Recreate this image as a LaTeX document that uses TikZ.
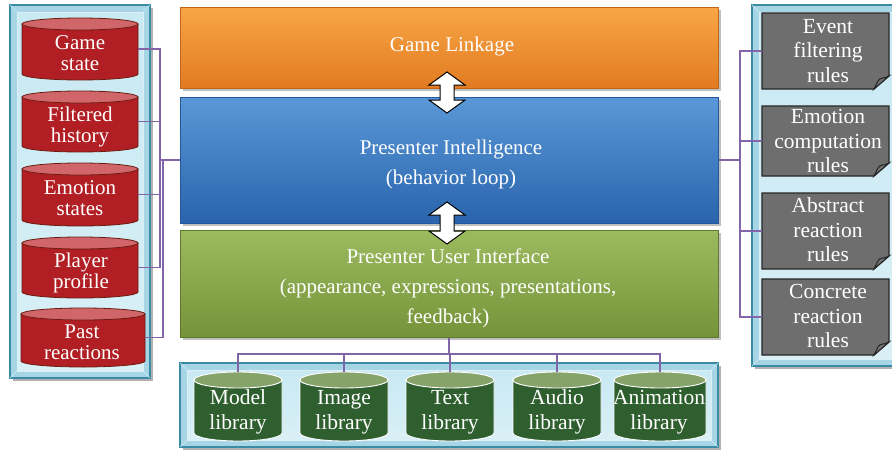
\documentclass[tikz,border=0pt]{standalone}
\usepackage{fontspec}
\setmainfont{Liberation Serif}
\definecolor{connc}{HTML}{8264A8}
\definecolor{pout}{HTML}{A6D6E6}
\definecolor{pedge}{HTML}{3B8BA5}
\definecolor{pin}{HTML}{C9E9F3}
\definecolor{redbody}{HTML}{B11E24}
\definecolor{redtop}{HTML}{D0666A}
\definecolor{rededge}{HTML}{6A1E12}
\definecolor{grnbody}{HTML}{2F5F2F}
\definecolor{grntop}{HTML}{86A46A}
\definecolor{notegray}{HTML}{6E6E6E}
\definecolor{orT}{HTML}{F8A646}
\definecolor{orB}{HTML}{E27A22}
\definecolor{orE}{HTML}{C0661A}
\definecolor{blT}{HTML}{5A98D8}
\definecolor{blB}{HTML}{2A64AC}
\definecolor{blE}{HTML}{24589A}
\definecolor{gnT}{HTML}{9CBA5E}
\definecolor{gnB}{HTML}{75933A}
\definecolor{gnE}{HTML}{5E7A2C}
\tikzset{
  conn/.style={draw=connc, line width=1.1pt},
  cyltext/.style={text=white, align=center, font=\fontsize{21}{20.5}\selectfont, inner sep=0pt},
  libtext/.style={text=white, align=center, font=\fontsize{21.5}{25}\selectfont, inner sep=0pt},
  notetext/.style={text=white, align=center, font=\fontsize{21.5}{24.5}\selectfont, inner sep=0pt},
  boxtext/.style={text=white, align=center, font=\fontsize{21}{30}\selectfont, inner sep=0pt},
  redbodys/.style={fill=redbody, draw=rededge, line width=0.8pt},
  redtops/.style={fill=redtop, draw=rededge, line width=0.8pt},
  grnbodys/.style={fill=grnbody, draw=white, line width=0.9pt},
  grntops/.style={fill=grntop, draw=white, line width=0.9pt},
  mainbox/.style={minimum width=538pt, inner sep=0pt, line width=1pt},
  dbl/.style={fill=white, draw=black, line width=1pt, line join=miter},
}
% cylinder: name, cx, top, bottom, half width, ry, body style, top style, text
\newcommand\dbcyl[9]{%
  \path[#7] (#2-#5,#3+#6) -- (#2-#5,#4-#6) arc[start angle=180,end angle=0,x radius=#5,y radius=#6] -- (#2+#5,#3+#6) -- cycle;
  \path[#8] (#2,#3+#6) ellipse[x radius=#5,y radius=#6];
  \coordinate (#1-e) at (#2+#5,{(#3+#4)/2});
  \coordinate (#1-t) at (#2,#3);
}
% note card: name, x1, y1, x2, y2
\newcommand\rulecard[5]{%
  \path[fill=notegray, draw=black!85, line width=1.2pt] (#2,#3) -- (#4,#3) -- (#4,#5-13) -- (#4-15,#5) -- (#2,#5) -- cycle;
  \path[fill=black!55, draw=black!85, line width=1pt] (#4,#5-13) .. controls (#4-5,#5-10) and (#4-9,#5-12) .. (#4-11,#5-8) -- (#4-15,#5) -- cycle;
  \coordinate (#1-w) at (#2,{(#3+#5)/2});
}
% panel: x1,y1,x2,y2
\newcommand\rpanel[4]{%
  \fill[black!30] (#1+3,#2+3) rectangle (#3+3,#4+3);
  \path[fill=pout, draw=pedge, line width=1.2pt] (#1,#2) rectangle (#3,#4);
  \path[top color=pin, bottom color=pin!70!white, draw=white!60!pout, line width=0.6pt] (#1+7,#2+7) rectangle (#3-7,#4-7);
  \draw[white!50!pout, line width=0.6pt] (#1,#2) -- (#1+7,#2+7) (#3,#2) -- (#3-7,#2+7) (#1,#4) -- (#1+7,#4-7) (#3,#4) -- (#3-7,#4-7);
}
\newcommand\dblarrow[3]{%
  \path[dbl] (#1,#2) -- (#1+18,#2+13) -- (#1+7,#2+13) -- (#1+7,#3-13) -- (#1+18,#3-13) -- (#1,#3) -- (#1-18,#3-13) -- (#1-7,#3-13) -- (#1-7,#2+13) -- (#1-18,#2+13) -- cycle;
}
\begin{document}
\begin{tikzpicture}[x=1pt,y=-1pt]
\useasboundingbox (0,0) rectangle (892,450);
\fill[white] (0,0) rectangle (892,450);

% panels
\rpanel{10}{5}{150}{378}
\rpanel{180}{363}{718}{447}
\rpanel{752}{5}{900}{366}

% main boxes (with shadows)
\fill[black!25] (183,10) rectangle (721,91);
\fill[black!25] (183,100) rectangle (721,226);
\fill[black!25] (183,233) rectangle (721,340);
\node[mainbox, minimum height=81pt, top color=orT, bottom color=orB, draw=orE] (link) at (449,47.5) {};
\node[mainbox, minimum height=126pt, top color=blT, bottom color=blB, draw=blE] (intel) at (449,160) {};
\node[mainbox, minimum height=107pt, top color=gnT, bottom color=gnB, draw=gnE] (ui) at (449,283.5) {};
\node[boxtext] (linkt) at (452,46) {Game Linkage};
\node[boxtext] (intelt) at (451,164) {Presenter Intelligence\\(behavior loop)};
\node[boxtext] (uit) at (448,288) {Presenter User Interface\\(appearance, expressions, presentations,\\feedback)};

% double arrows
\dblarrow{447}{72}{113}
\dblarrow{447}{202}{244}

% left cylinders
\dbcyl{gs}{80}{18}{80}{58}{6}{redbodys}{redtops}{}
\node[cyltext] (gst) at (80,53) {Game\\state};
\dbcyl{fh}{80}{91}{152}{58}{6}{redbodys}{redtops}{}
\node[cyltext] (fht) at (80,127) {Filtered\\history};
\dbcyl{es}{80}{163}{226}{58}{6}{redbodys}{redtops}{}
\node[cyltext] (est) at (80,198) {Emotion\\states};
\dbcyl{pp}{80}{237}{298}{58}{6}{redbodys}{redtops}{}
\node[cyltext] (ppt) at (81,273) {Player\\profile};
\dbcyl{pr}{83}{308}{367}{62}{6}{redbodys}{redtops}{}
\node[cyltext] (prt) at (82,342) {Past\\reactions};

% right cards
\rulecard{ef}{762}{13}{889}{89}
\node[notetext] (eft) at (828,51) {Event\\filtering\\rules};
\rulecard{ec}{762}{106}{889}{176}
\node[notetext] (ect) at (828,141) {Emotion\\computation\\rules};
\rulecard{ar}{762}{193}{889}{269}
\node[notetext] (art) at (828,230) {Abstract\\reaction\\rules};
\rulecard{cr}{762}{279}{889}{355}
\node[notetext] (crt) at (828,316) {Concrete\\reaction\\rules};

% bottom cylinders
\dbcyl{ml}{238}{372}{441}{44}{8}{grnbodys}{grntops}{}
\node[libtext] (mlt) at (238,412) {Model\\library};
\dbcyl{il}{344}{372}{441}{44}{8}{grnbodys}{grntops}{}
\node[libtext] (ilt) at (344,412) {Image\\library};
\dbcyl{tl}{450}{372}{441}{44}{8}{grnbodys}{grntops}{}
\node[libtext] (tlt) at (450,412) {Text\\library};
\dbcyl{al}{557}{372}{441}{44}{8}{grnbodys}{grntops}{}
\node[libtext] (alt) at (557,412) {Audio\\library};
\dbcyl{nl}{660}{372}{441}{46}{8}{grnbodys}{grntops}{}
\node[libtext] (nlt) at (659,412) {Animation\\library};

% connectors left
\coordinate (lb1) at (160,0);
\coordinate (lb2) at (163,0);
\draw[conn] (gs-e) -- (gs-e -| lb1) -- (pp-e -| lb1) -- (pp-e);
\draw[conn] (fh-e) -- (fh-e -| lb1);
\draw[conn] (es-e) -- (es-e -| lb1);
\draw[conn] (intel.west -| lb1) -- (intel.west);
\draw[conn] (intel.west -| lb2) -- (pr-e -| lb2) -- (pr-e);

% connectors right
\coordinate (rb) at (740,0);
\draw[conn] (intel.east) -- (intel.east -| rb);
\draw[conn] (ef-w) -- (ef-w -| rb) -- (cr-w -| rb) -- (cr-w);
\draw[conn] (ec-w) -- (ec-w -| rb);
\draw[conn] (ar-w) -- (ar-w -| rb);

% connectors bottom
\coordinate (bb) at (0,354);
\draw[conn] (ui.south) -- (ui.south |- bb);
\draw[conn] (ml-t) -- (ml-t |- bb) -- (nl-t |- bb) -- (nl-t);
\draw[conn] (il-t) -- (il-t |- bb);
\draw[conn] (tl-t) -- (tl-t |- bb);
\draw[conn] (al-t) -- (al-t |- bb);
\end{tikzpicture}
\end{document}
